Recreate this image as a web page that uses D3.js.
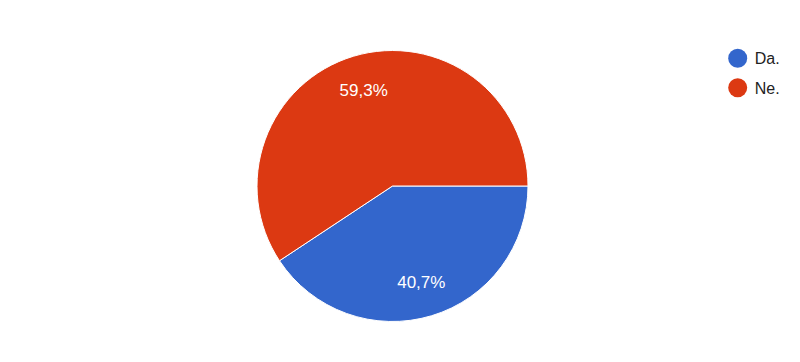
<!DOCTYPE html>
<html>
<head>
<meta charset="utf-8">
<script src="https://cdn.jsdelivr.net/npm/d3@7"></script>
<style>
  html, body { margin: 0; padding: 0; background: #fff; }
  svg { display: block; font-family: Arial, "Liberation Sans", sans-serif; }
</style>
</head>
<body>
<svg id="pieChart" width="800" height="362"></svg>
<script>
// Odgovori
const categories = ['Da.', 'Ne.'];
const values = [40.7, 59.3];
const labels = ['40,7%', '59,3%'];
const colors = ['#3366cc', '#dc3912'];

function renderPie() {
  const width = 800, height = 362;
  const cx = 392.5, cy = 186, radius = 135.5;

  const svg = d3.select('#pieChart')
    .attr('viewBox', `0 0 ${width} ${height}`);

  const data = categories.map((c, i) => ({ name: c, value: values[i], label: labels[i], color: colors[i] }));

  const pie = d3.pie()
    .value(d => d.value)
    .sort(null)
    .startAngle(Math.PI / 2)
    .endAngle(Math.PI / 2 + 2 * Math.PI);

  const arc = d3.arc().innerRadius(0).outerRadius(radius);
  const labelArc = d3.arc().innerRadius(100).outerRadius(100);

  const g = svg.append('g')
    .attr('transform', `translate(${cx},${cy})`);

  const slices = pie(data);

  // Kriške
  g.selectAll('.slice')
    .data(slices)
    .enter()
    .append('path')
    .attr('class', 'slice')
    .attr('d', arc)
    .attr('fill', d => d.data.color)
    .attr('stroke', '#fff')
    .attr('stroke-width', 1);

  // Postoci
  g.selectAll('.slice-label')
    .data(slices)
    .enter()
    .append('text')
    .attr('class', 'slice-label')
    .attr('transform', d => `translate(${labelArc.centroid(d)})`)
    .attr('dy', '0.35em')
    .attr('text-anchor', 'middle')
    .style('fill', '#fff')
    .style('font-size', '17px')
    .text(d => d.data.label);

  // Legenda
  const legend = svg.append('g')
    .attr('transform', 'translate(737.7,58.3)');

  const items = legend.selectAll('.legend-item')
    .data(data)
    .enter()
    .append('g')
    .attr('class', 'legend-item')
    .attr('transform', (d, i) => `translate(0,${i * 29.5})`);

  items.append('circle')
    .attr('r', 9.5)
    .attr('fill', d => d.color);

  items.append('text')
    .attr('x', 17)
    .attr('dy', '0.36em')
    .style('fill', '#222')
    .style('font-size', '16px')
    .text(d => d.name);
}

renderPie();
</script>
</body>
</html>
